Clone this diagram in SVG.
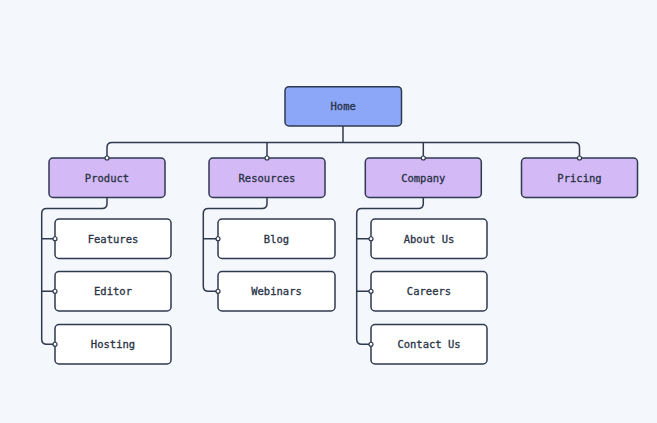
<svg xmlns="http://www.w3.org/2000/svg" width="657" height="423" viewBox="0 0 657 423">
<style>
.bg{fill:#f4f7fc}
.box{stroke:#2f3a4f;stroke-width:1.5}
.root{fill:#8ca6f8}
.sec{fill:#d3b9f5}
.leaf{fill:#ffffff}
.lbl{font-family:"DejaVu Sans Mono","Liberation Mono",monospace;font-size:10.5px;fill:#283246;stroke:#283246;stroke-width:0.3;text-anchor:middle;dominant-baseline:central}
.wire{fill:none;stroke:#2f3a4f;stroke-width:1.5}
.dot{fill:#ffffff;stroke:#2f3a4f;stroke-width:1.2}
</style>
<rect class="bg" x="0" y="0" width="657" height="423"/>
<g id="connectors">
<path class="wire" d="M343,126 V142.5"/>
<path class="wire" d="M107,158 V147.5 Q107,142.5 112,142.5 H574.5 Q579.5,142.5 579.5,147.5 V158"/>
<path class="wire" d="M267,142.5 V158"/>
<path class="wire" d="M423.3,142.5 V158"/>
<path class="wire" d="M107,197.5 V203.5 Q107,208.5 102,208.5 H46.7 Q41.7,208.5 41.7,213.5 V339.25 Q41.7,344.25 46.7,344.25 H55"/>
<path class="wire" d="M41.7,238.75 H55 M41.7,291.25 H55"/>
<path class="wire" d="M267,197.5 V203.5 Q267,208.5 262,208.5 H208.3 Q203.3,208.5 203.3,213.5 V286.25 Q203.3,291.25 208.3,291.25 H218"/>
<path class="wire" d="M203.3,238.75 H218"/>
<path class="wire" d="M423.3,197.5 V203.5 Q423.3,208.5 418.3,208.5 H361.7 Q356.7,208.5 356.7,213.5 V339.25 Q356.7,344.25 361.7,344.25 H371"/>
<path class="wire" d="M356.7,238.75 H371 M356.7,291.25 H371"/>
</g>
<g id="home"><rect class="box root" x="285" y="86.7" width="116.5" height="39.3" rx="4"/><text class="lbl" x="343.2" y="106.4">Home</text></g>
<g id="product"><rect class="box sec" x="49" y="158" width="116" height="39.5" rx="4"/><text class="lbl" x="107" y="177.75">Product</text></g>
<g id="resources"><rect class="box sec" x="209" y="158" width="116" height="39.5" rx="4"/><text class="lbl" x="267" y="177.75">Resources</text></g>
<g id="company"><rect class="box sec" x="365.3" y="158" width="116" height="39.5" rx="4"/><text class="lbl" x="423.3" y="177.75">Company</text></g>
<g id="pricing"><rect class="box sec" x="521.5" y="158" width="116" height="39.5" rx="4"/><text class="lbl" x="579.5" y="177.75">Pricing</text></g>
<g id="features"><rect class="box leaf" x="55" y="219" width="116" height="39.5" rx="4"/><text class="lbl" x="113" y="238.75">Features</text></g>
<g id="editor"><rect class="box leaf" x="55" y="271.5" width="116" height="39.5" rx="4"/><text class="lbl" x="113" y="291.25">Editor</text></g>
<g id="hosting"><rect class="box leaf" x="55" y="324.5" width="116" height="39.5" rx="4"/><text class="lbl" x="113" y="344.25">Hosting</text></g>
<g id="blog"><rect class="box leaf" x="218" y="219" width="117" height="39.5" rx="4"/><text class="lbl" x="276.5" y="238.75">Blog</text></g>
<g id="webinars"><rect class="box leaf" x="218" y="271.5" width="117" height="39.5" rx="4"/><text class="lbl" x="276.5" y="291.25">Webinars</text></g>
<g id="about-us"><rect class="box leaf" x="371" y="219" width="116" height="39.5" rx="4"/><text class="lbl" x="429" y="238.75">About Us</text></g>
<g id="careers"><rect class="box leaf" x="371" y="271.5" width="116" height="39.5" rx="4"/><text class="lbl" x="429" y="291.25">Careers</text></g>
<g id="contact-us"><rect class="box leaf" x="371" y="324.5" width="116" height="39.5" rx="4"/><text class="lbl" x="429" y="344.25">Contact Us</text></g>
<g id="connector-ends">
<circle class="dot" cx="107" cy="158" r="2"/>
<circle class="dot" cx="267" cy="158" r="2"/>
<circle class="dot" cx="423.3" cy="158" r="2"/>
<circle class="dot" cx="579.5" cy="158" r="2"/>
<circle class="dot" cx="55" cy="238.75" r="2"/>
<circle class="dot" cx="55" cy="291.25" r="2"/>
<circle class="dot" cx="55" cy="344.25" r="2"/>
<circle class="dot" cx="218" cy="238.75" r="2"/>
<circle class="dot" cx="218" cy="291.25" r="2"/>
<circle class="dot" cx="371" cy="238.75" r="2"/>
<circle class="dot" cx="371" cy="291.25" r="2"/>
<circle class="dot" cx="371" cy="344.25" r="2"/>
</g>
</svg>
